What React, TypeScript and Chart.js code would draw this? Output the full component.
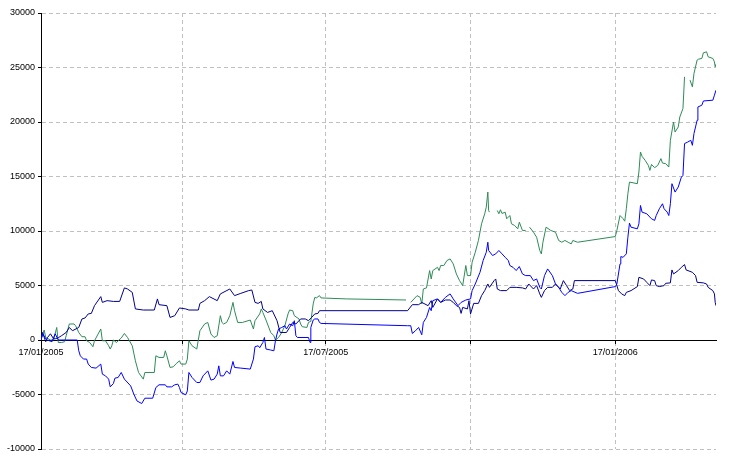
import { useEffect, useRef } from "react";
import { Chart, registerables } from "chart.js";

Chart.register(...registerables);

// Days since 17/01/2005
const xTickDays = [0, 90, 181, 273, 365];
const xTickLabels = ["17/01/2005", "", "17/07/2005", "", "17/01/2006"];
const yTickValues = [-10000, -5000, 0, 5000, 10000, 15000, 20000, 25000, 30000];

const navyDays = [0,1,3,4,6,8,9,11,13,16,18,20,24,26,28,30,32,34,38,39,42,46,50,53,55,58,60,65,72,74,75,80,82,85,88,92,94,100,101,104,107,112,114,120,123,127,132,134,136,138,140,141,144,147,150,152,156,158,160,162,165,168,170,172,174,176,177,233,236,240,242,246,248,249,252,254,257,260,262,264,266,267,268,271,272,273,275,278,280,282,284,285,288,289,290,292,296,298,302,306,308,310,313,315,317,318,320,322,325,327,330,332,334,336,338,339,365,366,367,369,371,372,375,379,380,383,385,387,388,390,391,393,396,397,400,401,402,405,407,409,410,414,416,417,421,423,424,427,428,428.5,429];
const navyValues = [0,690,-160,200,570,110,110,210,390,690,1150,850,1150,1930,2020,2390,2440,3150,3980,3450,3610,3540,3540,4780,4680,4370,2850,2750,2750,3770,3240,3150,2070,2230,2940,2850,2750,2750,3360,3610,3980,3610,4230,4680,4070,4280,4530,4590,3450,3360,3540,2850,2530,2690,1770,690,690,1150,1610,1470,1930,1930,1770,2070,2390,2440,2690,2690,3240,3240,3450,3150,3610,2990,3770,3450,3670,3670,3450,3150,2990,2440,2990,2850,3610,2390,3360,3360,4070,4530,5140,4830,5450,5600,4680,4530,4530,4830,4830,4780,4680,5140,4680,4990,4230,3910,4530,4830,4830,5140,4680,5450,4990,4530,4680,5450,5450,4990,4530,4230,4070,4370,4530,4900,5750,5600,5290,4990,5510,5450,4990,4900,4990,5200,5240,6430,6060,6370,6670,6920,6430,6210,5910,5290,5240,5140,4830,4530,4230,3450,3150];

const blueDays = [0,1,3,4,7,9,11,23,24,25,27,29,30,32,35,38,39,41,43,44,46,47,49,51,53,57,59,61,64,66,71,73,75,79,80,83,85,87,88,89,92,93,94,96,99,101,103,106,108,110,112,113,114,116,118,120,122,123,127,133,135,136,138,139,141,142,143,146,148,149,150,151,153,155,156,158,160,161,162,163,170,171,171.5,173,174,176,177,178,233,235,236,238,240,242,243,245,247,248,249,252,254,257,260,262,265,267,270,273,274,276,279,281,283,284,284.5,287,289,291,293,295,297,298,300,302,304,306,308,311,313,315,317,318,320,322,325,327,329,331,333,335,337,341,365,366,368,368.5,370,372,373,374,375,379,380,381,382,385,388,390,391,393,395,396,398,399,400,401,403,405,407,408,409,411,413,414,415,417,417.5,420,421,427,428,429];
const blueValues = [0,600,110,0,-160,570,0,0,-990,-1450,-1750,-1750,-2210,-2520,-2580,-2210,-3130,-3290,-3590,-4300,-4000,-3500,-3440,-2980,-3590,-4210,-4970,-5590,-5830,-5340,-5340,-4360,-4110,-4110,-4300,-4300,-4110,-4050,-4360,-4820,-5030,-4670,-2980,-3440,-3900,-3900,-3290,-2830,-3680,-3590,-3130,-2370,-3290,-3290,-2830,-3130,-1970,-2520,-2580,-2670,-1750,-620,-530,-710,-230,230,-830,-920,-990,-70,550,1010,1150,1310,1010,1470,1310,1770,390,230,230,-230,1150,1830,1930,1930,1610,1520,1310,1310,600,850,1150,480,1610,2070,2990,2690,3610,3770,3450,3910,4230,3770,3150,3450,3670,3770,4530,5140,6210,7290,8050,8970,8210,7750,7900,8210,7900,7590,7290,6830,6670,6370,6740,6060,5910,5910,5450,5600,4830,4680,5910,6520,5910,5140,4830,4370,4070,4370,4530,4280,4900,5140,6980,7650,7590,7900,9430,10720,10350,10200,10660,12340,11730,11580,11120,10970,11420,12040,12500,12040,11730,11420,12500,14340,13570,14030,14950,15100,18020,18160,18320,17860,18940,20160,21380,21540,21930,22000,22460,22920];

const greenDays = [0,2,3,6,8,10,11,13,15,16,18,21,22,24,26,28,29,31,33,34,38,39,41,43,44,45,46,48,49,51,53,55,58,60,62,65,66,72,73,75,78,79,80,82,84,86,88,89,92,93,94,96,99,101,104,106,108,110,112,114,115,116,118,120,122,123,125,128,133,135,136,139,140,141,143,146,148,149,151,153,155,157,158,160,161,164,165,166,169,170,171.5,173,174,175,177,178,194,232,233.5,235,239,241,242,243,245,247,248,249,252,253,254,256,258,260,262,264,266,268,270,271,273,274,276,278,280,282,283,284,284.5,285,287,290,291,292,293,295,296,298,299,301,303,304,306,308,309.5,310.5,313,315,317,318,319,321,324,327,329,331,333,335,337,338,341,365,366,368,370,371,372,373,374,379,380,381,382,384,386,387,388,390,392,394,395,397,399,400,402,403,405,406,408,409,410.5,412.5,414,415,417,418,420,421,423,424,427,428,428.5,429];
const greenValues = [0,920,230,0,20,1150,-230,-230,-160,390,1470,1470,1310,690,300,300,-70,-230,-620,-70,1010,-70,-70,-530,-830,-530,0,-230,-70,180,600,230,-530,-1910,-2980,-3590,-2980,-2980,-1450,-1600,-1600,-990,-1450,-2520,-2460,-2160,-1910,-2210,-2210,-1750,-70,-530,-830,850,1470,1610,550,230,390,2230,1610,1470,1610,2230,3450,2690,1610,1610,1830,1010,1770,2390,2850,2530,1830,690,390,0,230,690,1310,2390,2750,2690,2230,1930,1470,1220,1150,1610,1710,3310,3910,3860,4070,3860,3770,3670,null,3450,4070,3910,3310,4680,4780,6370,5600,6370,6670,6370,6830,6830,7290,7440,6980,6060,5450,4990,6830,5910,5910,7130,8050,9130,10660,11580,12190,13570,11880,11730,null,11880,11580,11950,11610,11730,11120,11420,10660,10510,10200,10810,10050,10050,null,10350,9890,9430,8210,7900,8970,10350,10050,9890,9130,8970,9130,8970,8820,9130,8970,9490,10050,11420,11120,10900,12040,13420,14490,14340,15410,17250,16850,16480,16020,15560,16110,15810,16020,16640,16230,16180,15870,18320,20000,19080,19540,20460,21240,24140,null,23840,23220,24450,25680,25770,25830,26350,26440,25980,25830,25520,25060,25310];

function toPoints(days: number[], values: (number | null)[]) {
  return days.map((d, i) => ({ x: d, y: values[i] }));
}

const FONT = { family: "'Liberation Sans', Arial, sans-serif", size: 9 };

export default function App() {
  const canvasRef = useRef<HTMLCanvasElement | null>(null);

  useEffect(() => {
    const canvas = canvasRef.current;
    if (!canvas) return;
    const chart = new Chart(canvas, {
      type: "line",
      data: {
        datasets: [
          {
            label: "Series B",
            data: toPoints(blueDays, blueValues),
            borderColor: "#0000ff",
            borderWidth: 1,
            pointRadius: 0,
            tension: 0,
            spanGaps: false,
          },
          {
            label: "Series A",
            data: toPoints(navyDays, navyValues),
            borderColor: "#00008b",
            borderWidth: 1,
            pointRadius: 0,
            tension: 0,
            spanGaps: false,
          },
          {
            label: "Total",
            data: toPoints(greenDays, greenValues),
            borderColor: "#2e8b57",
            borderWidth: 1,
            pointRadius: 0,
            tension: 0,
            spanGaps: false,
          },
        ],
      },
      options: {
        animation: false,
        responsive: false,
        maintainAspectRatio: false,
        devicePixelRatio: 1,
        layout: { padding: { left: 0, top: 13, right: 30, bottom: 13 } },
        plugins: {
          legend: { display: false },
          tooltip: { enabled: false },
        },
        scales: {
          x: {
            type: "linear",
            min: 0,
            max: 429,
            position: { y: 0 } as any,
            afterBuildTicks: (scale: any) => {
              scale.ticks = xTickDays.map((v) => ({ value: v }));
            },
            ticks: {
              autoSkip: false,
              maxRotation: 0,
              minRotation: 0,
              padding: 4,
              color: "#000",
              font: FONT,
              callback: (_v: any, i: number) => xTickLabels[i],
            },
            grid: {
              drawTicks: true,
              tickLength: 3,
              tickColor: "#000",
              lineWidth: 1,
              color: (ctx: any) => (ctx.index === 0 ? "rgba(0,0,0,0)" : "#c0c0c0"),
            },
            border: { display: true, color: "#000", width: 1, dash: [4, 3] },
          },
          y: {
            type: "linear",
            min: -10000,
            max: 30000,
            afterBuildTicks: (scale: any) => {
              scale.ticks = yTickValues.map((v) => ({ value: v }));
            },
            afterFit: (scale: any) => {
              scale.width = 41;
            },
            ticks: {
              padding: 3,
              color: "#000",
              font: FONT,
              callback: (v: any) => String(v),
            },
            grid: {
              drawTicks: true,
              tickLength: 3,
              tickColor: "#000",
              lineWidth: 1,
              color: (ctx: any) =>
                ctx.tick && ctx.tick.value === 0 ? "rgba(0,0,0,0)" : "#c0c0c0",
            },
            border: { display: true, color: "#000", width: 1, dash: [4, 3] },
          },
        },
      },
    });
    return () => chart.destroy();
  }, []);

  return (
    <div
      style={{
        position: "fixed",
        left: 0,
        top: 0,
        width: 746,
        height: 462,
        background: "#fff",
      }}
    >
      <canvas ref={canvasRef} width={746} height={462} style={{ width: 746, height: 462 }} />
    </div>
  );
}
